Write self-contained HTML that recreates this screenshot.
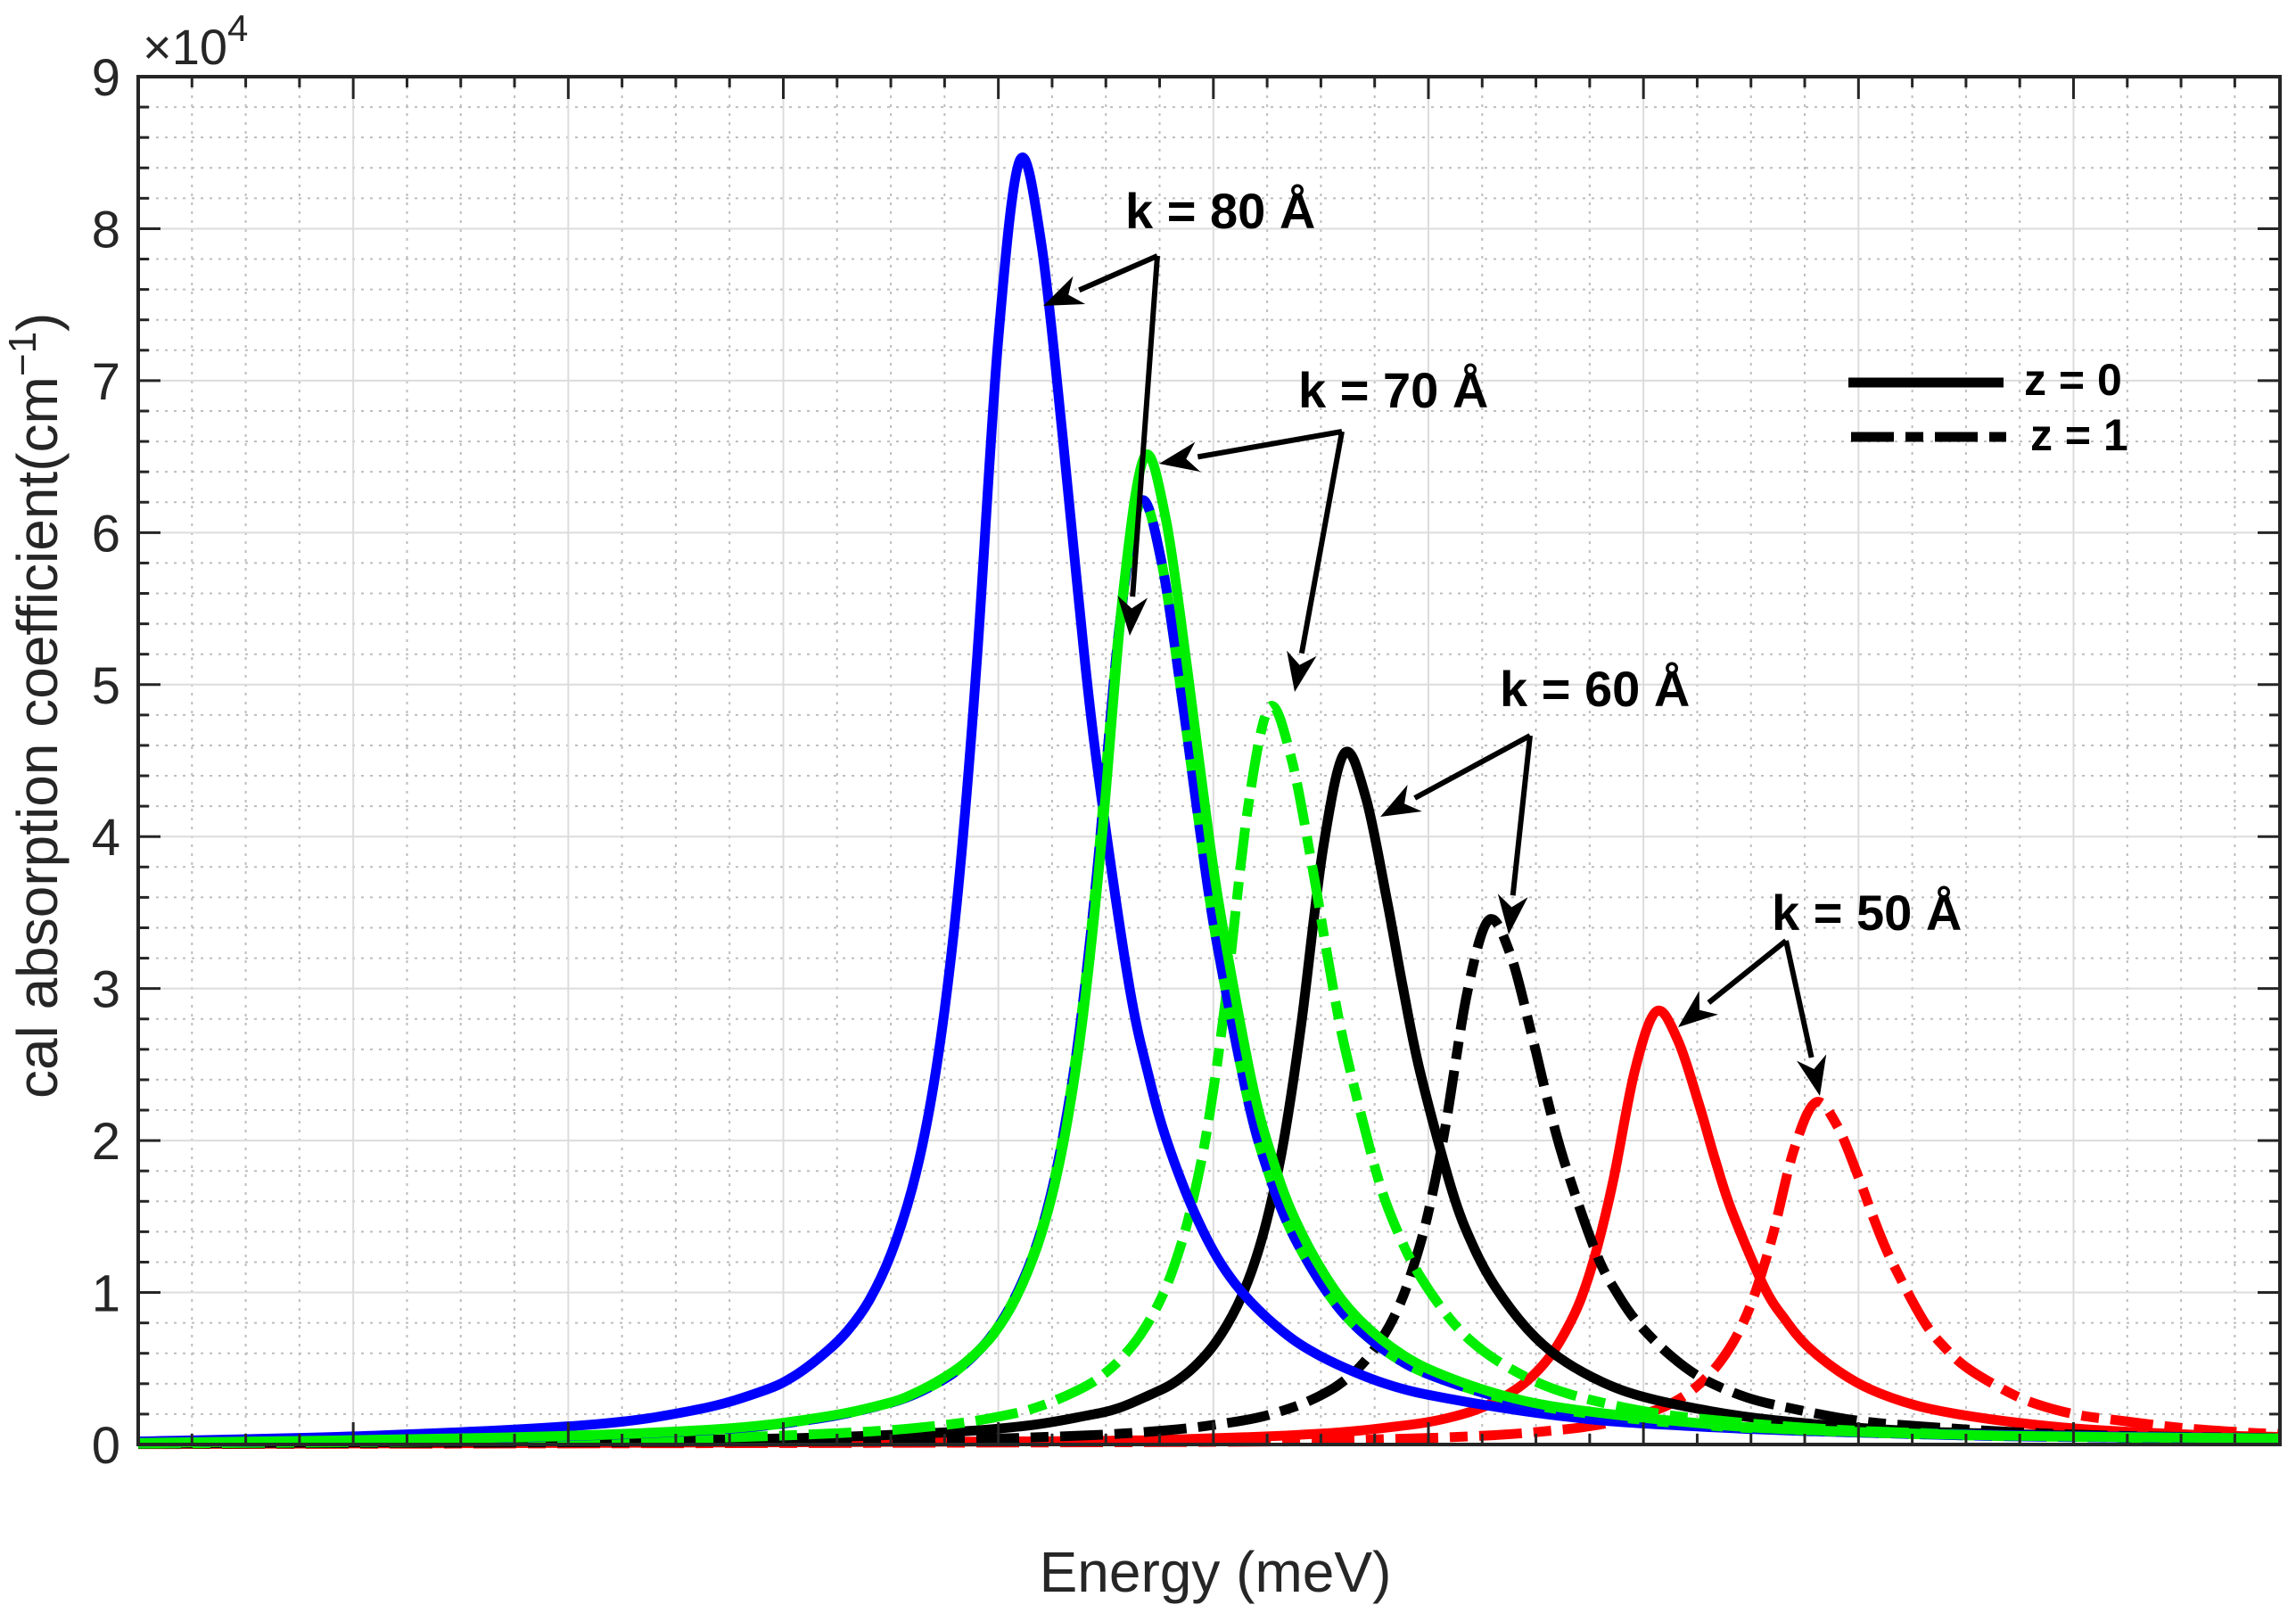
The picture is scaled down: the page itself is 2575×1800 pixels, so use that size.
<!DOCTYPE html>
<html><head><meta charset="utf-8"><style>
html,body{margin:0;padding:0;background:#fff;}
svg{display:block;font-family:"Liberation Sans",Arial,sans-serif;}
</style></head><body>
<svg id="chart" width="2575" height="1800" viewBox="0 0 2575 1800">
<g id="grid"></g>
<g id="series"></g>
<g id="axes"></g>
<g id="annot"></g>
<g id="legend">
  <line x1="2073" y1="429" x2="2247" y2="429" stroke="#000" stroke-width="11"/>
  <text x="2270" y="443" font-size="50" font-weight="bold">z = 0</text>
  <line x1="2076" y1="490" x2="2250" y2="490" stroke="#000" stroke-width="11" stroke-dasharray="48,13,20,13"/>
  <text x="2277" y="505" font-size="50" font-weight="bold">z = 1</text>
</g>
<text x="160" y="72" font-size="56" fill="#262626">×10<tspan font-size="42" dy="-26">4</tspan></text>
<text x="1363" y="1785" font-size="64" fill="#262626" text-anchor="middle">Energy (meV)</text>
<text transform="translate(64,1232) rotate(-90)" font-size="64" fill="#262626" text-anchor="start">cal absorption coefficient(cm<tspan font-size="44" dy="-24">−1</tspan><tspan dy="24">)</tspan></text>
</svg>
<script>
const NS="http://www.w3.org/2000/svg";
const X0=155,X1=2557,Y0=1620,Y1=86;
const xMin=0,xMax=9.96,yMin=0,yMax=9;
function sx(v){return X0+(v-xMin)/(xMax-xMin)*(X1-X0);}
function sy(v){return Y0-(v-yMin)/(yMax-yMin)*(Y0-Y1);}
const yTicks=[0,1,2,3,4,5,6,7,8,9];
const yTickLabels=["0","1","2","3","4","5","6","7","8","9"];
const xMajor=[0,1,2,3,4,5,6,7,8,9];

// series data (x in energy units, y in 1e4 cm^-1)
const blueSolidX=[0,1.10,2.10,2.60,2.90,3.05,3.20,3.30,3.40,3.50,3.60,3.68,3.75,3.82,3.90,4.00,4.10,4.20,4.30,4.37,4.45,4.60,4.70,4.80,4.95,5.10,5.30,5.50,5.80,6.10,6.60,7.10,8.10,9.96];
const blueSolidY=[0.02,.058,.13,.23,.35,.45,.61,.75,.95,1.25,1.69,2.21,2.86,3.75,5.15,7.28,8.45,7.90,6.62,5.61,4.57,3.09,2.42,1.93,1.41,1.06,.77,.58,.40,.30,.19,.13,.075,0.04];
const blueDashX=[0,1.66,2.66,3.16,3.46,3.61,3.76,3.86,3.96,4.06,4.16,4.24,4.31,4.38,4.46,4.56,4.66,4.76,4.86,4.93,5.01,5.16,5.26,5.36,5.51,5.66,5.86,6.06,6.36,6.66,7.16,7.66,8.66,9.96];
const blueDashY=[0.01,.043,.095,.17,.26,.33,.44,.55,.70,.92,1.24,1.62,2.10,2.75,3.78,5.34,6.2,5.80,4.85,4.12,3.35,2.27,1.77,1.41,1.04,.78,.56,.43,.30,.22,.14,.098,.055,0.04];
const greenSolidX=[0,1.68,2.68,3.18,3.48,3.63,3.78,3.88,3.98,4.08,4.18,4.26,4.33,4.40,4.48,4.58,4.68,4.78,4.88,4.95,5.03,5.18,5.28,5.38,5.53,5.68,5.88,6.08,6.38,6.68,7.18,7.68,8.68,9.96];
const greenSolidY=[0.01,.045,.10,.18,.27,.35,.47,.58,.73,.96,1.30,1.70,2.20,2.89,3.97,5.60,6.5,6.08,5.09,4.32,3.52,2.38,1.86,1.48,1.09,.82,.59,.45,.31,.23,.15,.10,.058,0.04];
const greenDashX=[0,2.26,3.26,3.76,4.06,4.21,4.36,4.46,4.56,4.66,4.76,4.84,4.91,4.98,5.06,5.16,5.26,5.36,5.46,5.53,5.61,5.76,5.86,5.96,6.11,6.26,6.46,6.66,6.96,7.26,7.76,8.26,9.26,9.96];
const greenDashY=[0.005,.033,.075,.13,.20,.26,.35,.43,.55,.72,.97,1.27,1.64,2.15,2.96,4.18,4.85,4.53,3.80,3.22,2.62,1.78,1.39,1.11,.81,.61,.44,.33,.23,.17,.11,.077,.043,0.035];
const blackSolidX=[0,2.61,3.61,4.11,4.41,4.56,4.71,4.81,4.91,5.01,5.11,5.19,5.26,5.33,5.41,5.51,5.61,5.71,5.81,5.88,5.96,6.11,6.21,6.31,6.46,6.61,6.81,7.01,7.31,7.61,8.11,8.61,9.61,9.96];
const blackSolidY=[0.005,.031,.07,.12,.19,.24,.33,.40,.51,.67,.91,1.19,1.54,2.02,2.78,3.92,4.55,4.25,3.56,3.02,2.46,1.67,1.30,1.04,.76,.57,.41,.31,.22,.16,.10,.072,.04,0.036];
const blackDashX=[0,3.28,4.28,4.78,5.08,5.23,5.38,5.48,5.58,5.68,5.78,5.86,5.93,6.00,6.08,6.18,6.28,6.38,6.48,6.55,6.63,6.78,6.88,6.98,7.13,7.28,7.48,7.68,7.98,8.28,8.78,9.28,9.96];
const blackDashY=[0.004,.024,.053,.093,.145,.185,.25,.31,.39,.51,.69,.90,1.17,1.53,2.10,2.97,3.45,3.23,2.70,2.29,1.87,1.26,.99,.79,.58,.43,.31,.24,.16,.12,.078,.055,0.042];
const redSolidX=[0,4.06,5.06,5.56,5.86,6.01,6.16,6.26,6.36,6.46,6.56,6.64,6.71,6.78,6.86,6.96,7.06,7.16,7.26,7.33,7.41,7.56,7.66,7.76,7.91,8.06,8.26,8.46,8.76,9.06,9.56,9.96];
const redSolidY=[0.003,.02,.044,.077,.12,.15,.20,.25,.32,.42,.57,.75,.96,1.27,1.74,2.46,2.85,2.66,2.23,1.89,1.54,1.04,.82,.65,.48,.36,.26,.20,.14,.10,.064,0.05];
const redDashX=[0,4.80,5.80,6.30,6.60,6.75,6.90,7.00,7.10,7.20,7.30,7.38,7.45,7.52,7.60,7.70,7.80,7.90,8.00,8.07,8.15,8.30,8.40,8.50,8.65,8.80,9.00,9.20,9.50,9.80,9.96];
const redDashY=[0.002,.016,.035,.061,.095,.12,.16,.20,.25,.33,.45,.59,.76,1.0,1.37,1.94,2.25,2.10,1.76,1.49,1.22,.82,.64,.51,.38,.28,.20,.16,.11,.079,0.07];

function mk(tag,attrs,parent){const e=document.createElementNS(NS,tag);for(const k in attrs)e.setAttribute(k,attrs[k]);parent.appendChild(e);return e;}
const grid=document.getElementById('grid'),axes=document.getElementById('axes'),series=document.getElementById('series'),annot=document.getElementById('annot');

for(let i=0;i<=9*5;i++){const v=i*0.2;if(i%5===0)continue;const y=sy(v);
 const l=mk('line',{x1:X0,x2:X1,y1:y,y2:y,stroke:'#bdbdbd','stroke-width':2,'stroke-dasharray':'3,7'},grid);
 
 }
for(let i=0;i<=40;i++){const v=i*0.25;if(v>xMax||i%4===0)continue;const x=sx(v);
 const l=mk('line',{x1:x,x2:x,y1:Y0,y2:Y1,stroke:'#bdbdbd','stroke-width':2,'stroke-dasharray':'3,7'},grid);
 
 }
yTicks.forEach(v=>{const y=sy(v);
 const l=mk('line',{x1:X0,x2:X1,y1:y,y2:y,stroke:'#dcdcdc','stroke-width':2},grid);
 
 });
xMajor.forEach(v=>{const x=sx(v);
 const l=mk('line',{x1:x,x2:x,y1:Y0,y2:Y1,stroke:'#dcdcdc','stroke-width':2},grid);
 
 });

function curve(xs,ys){const p=xs.map((x,i)=>[sx(x),sy(ys[i])]);let d='M'+p[0][0]+','+p[0][1];
 for(let i=0;i<p.length-1;i++){const p0=p[i-1]||p[i],p1=p[i],p2=p[i+1],p3=p[i+2]||p2;
  const c1=[p1[0]+(p2[0]-p0[0])/6,p1[1]+(p2[1]-p0[1])/6],c2=[p2[0]-(p3[0]-p1[0])/6,p2[1]-(p3[1]-p1[1])/6];
  d+=' C'+c1[0].toFixed(1)+','+c1[1].toFixed(1)+' '+c2[0].toFixed(1)+','+c2[1].toFixed(1)+' '+p2[0].toFixed(1)+','+p2[1].toFixed(1);}
 return d;}
const DASH='48,13,20,13';
const specs=[
 [redDashX,redDashY,'#ff0000',DASH,'series-k50-z1'],
 [redSolidX,redSolidY,'#ff0000',null,'series-k50-z0'],
 [blackDashX,blackDashY,'#000000',DASH,'series-k60-z1'],
 [blackSolidX,blackSolidY,'#000000',null,'series-k60-z0'],
 [greenDashX,greenDashY,'#00ee00',DASH,'series-k70-z1'],
 [blueSolidX,blueSolidY,'#0000ff',null,'series-k80-z0'],
 [blueDashX,blueDashY,'#00ee00',null,'series-k80-z1-under'],
 [blueDashX,blueDashY,'#0000ff',DASH,'series-k80-z1'],
 [greenSolidX,greenSolidY,'#00ee00',null,'series-k70-z0']];
specs.forEach(s=>{const a={d:curve(s[0],s[1]),fill:'none',stroke:s[2],'stroke-width':11,'stroke-linejoin':'round'};
 if(s[3])a['stroke-dasharray']=s[3];
 const p=mk('path',a,series);
 
 });

const box=mk('rect',{x:X0,y:Y1,width:X1-X0,height:Y0-Y1,fill:'none',stroke:'#262626','stroke-width':4},axes);


for(let i=0;i<=45;i++){const v=i*0.2,y=sy(v),len=(i%5===0)?25:12;
 mk('line',{x1:X0,x2:X0+len,y1:y,y2:y,stroke:'#262626','stroke-width':3},axes);
 mk('line',{x1:X1,x2:X1-len,y1:y,y2:y,stroke:'#262626','stroke-width':3},axes);}
for(let i=0;i<=40;i++){const v=i*0.25;if(v>xMax)continue;const x=sx(v),len=(i%4===0)?25:12;
 mk('line',{x1:x,x2:x,y1:Y0,y2:Y0-len,stroke:'#262626','stroke-width':3},axes);
 mk('line',{x1:x,x2:x,y1:Y1,y2:Y1+len,stroke:'#262626','stroke-width':3},axes);}
yTicks.forEach((v,i)=>{const t=mk('text',{x:135,y:sy(v)+21,'font-size':58,fill:'#262626','text-anchor':'end'},axes);
 t.textContent=yTickLabels[i];
 
 });

const labels=[["k = 80 Å",1262,256],["k = 70 Å",1456,457],["k = 60 Å",1682,792],["k = 50 Å",1987,1043]];
labels.forEach(l=>{const t=mk('text',{x:l[1],y:l[2],'font-size':56,'font-weight':'bold'},annot);
 t.textContent=l[0];
 
 });
const arrows=[[1298,287,1170,343],[1298,287,1267,713],[1505,484,1300,520],[1505,484,1452,776],[1716,825,1548,916],[1716,825,1692,1048],[2003,1055,1882,1152],[2003,1055,2041,1229]];
arrows.forEach(a=>{const [x1,y1,x2,y2]=a;const ang=Math.atan2(y2-y1,x2-x1),L=44,W=17;
 const bx=x2-L*Math.cos(ang),by=y2-L*Math.sin(ang);
 mk('line',{x1:x1,y1:y1,x2:bx,y2:by,stroke:'#000','stroke-width':6},annot);
 const nx=-Math.sin(ang)*W,ny=Math.cos(ang)*W;
 const p=mk('polygon',{points:`${x2},${y2} ${bx+nx},${by+ny} ${bx+0.3*L*Math.cos(ang)},${by+0.3*L*Math.sin(ang)} ${bx-nx},${by-ny}`,fill:'#000'},annot);
 
 });
</script>
</body></html>
